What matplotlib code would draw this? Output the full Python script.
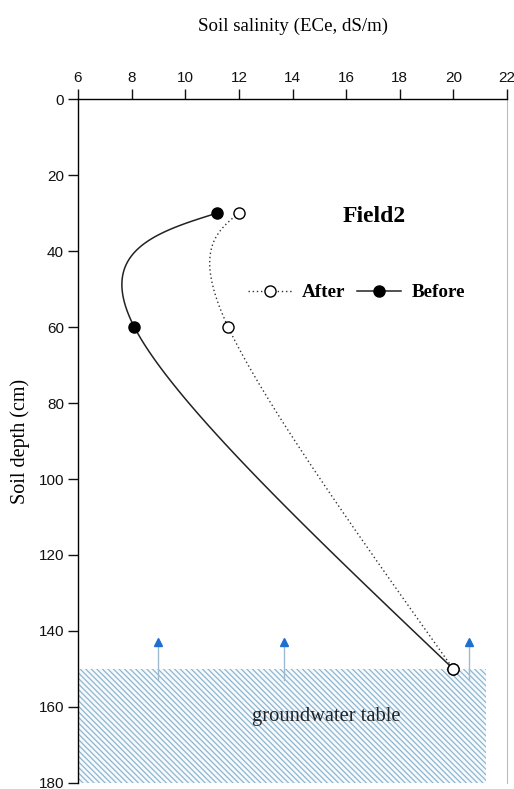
import numpy as np
import matplotlib
matplotlib.use("Agg")
import matplotlib.pyplot as plt
from matplotlib.patches import Rectangle

# ---- data ----
depth = [30, 60, 150]
before = [11.2, 8.1, 20.0]
after = [12.0, 11.6, 20.0]
x_ticks = [6, 8, 10, 12, 14, 16, 18, 20, 22]
y_ticks = [0, 20, 40, 60, 80, 100, 120, 140, 160, 180]
gw_top, gw_bottom = 150, 180
gw_left, gw_right = 6, 21.2
gw_label_x, gw_label_y = 15.25, 162.5
arrow_x = [9.0, 13.7, 20.6]
arrow_from, arrow_to = 153.0, 143.0


def natural_spline(vals, n=60):
    """Natural cubic spline with uniform parameter t=0..k-1, evaluated densely."""
    v = np.asarray(vals, float)
    k = len(v)
    A = np.zeros((k, k)); r = np.zeros(k)
    A[0, 0] = A[-1, -1] = 1
    for i in range(1, k - 1):
        A[i, i - 1], A[i, i], A[i, i + 1] = 1, 4, 1
        r[i] = 6 * (v[i + 1] - 2 * v[i] + v[i - 1])
    M = np.linalg.solve(A, r)
    out = []
    for i in range(k - 1):
        s = np.linspace(0, 1, n, endpoint=(i == k - 2))
        a = v[i]
        b = (v[i + 1] - v[i]) - (2 * M[i] + M[i + 1]) / 6
        c = M[i] / 2
        d = (M[i + 1] - M[i]) / 6
        out.append(a + b * s + c * s ** 2 + d * s ** 3)
    return np.concatenate(out)


fig = plt.figure(figsize=(5.14, 7.89), dpi=100)
ax = fig.add_axes([78 / 514, 1 - 783 / 789, 429 / 514, 684 / 789])

serif = ['Liberation Serif', 'DejaVu Serif']
sans = ['Liberation Sans', 'DejaVu Sans']

# groundwater hatched region
plt.rcParams['hatch.linewidth'] = 0.9
plt.rcParams['hatch.color'] = '#8db6d0'
ax.add_patch(Rectangle((gw_left, gw_top), gw_right - gw_left, gw_bottom - gw_top,
                       facecolor='#f7fafc', edgecolor='#8db6d0', hatch='\\' * 6,
                       linewidth=0, zorder=1))
ax.text(gw_label_x, gw_label_y, 'groundwater table', family=serif,
        fontsize=14.8, color='#222222', ha='center', va='center', zorder=3)

# upward arrows
for xa in arrow_x:
    ax.plot([xa, xa], [arrow_from, arrow_to + 0.8], color='#9dbad0', lw=1.0, zorder=2)
    ax.plot([xa], [arrow_to], marker='^', color='#1f6fd1', markersize=5.5, zorder=2)

# curves
bx = natural_spline(before); by = natural_spline(depth)
axx = natural_spline(after); ay = natural_spline(depth)
ax.plot(axx, ay, linestyle=(0, (1, 2)), color='#333333', lw=1.0, zorder=4)
ax.plot(bx, by, '-', color='#222222', lw=1.1, zorder=4)
ax.plot(before, depth, 'o', mfc='black', mec='black', ms=8, zorder=5)
ax.plot(after, depth, 'o', mfc='white', mec='black', mew=1.0, ms=8, zorder=6)

# legend proxies
h_after, = ax.plot([], [], linestyle=(0, (1, 2)), color='#333333', lw=1.0,
                   marker='o', mfc='white', mec='black', ms=8)
h_before, = ax.plot([], [], '-', color='#222222', lw=1.1, marker='o',
                    mfc='black', mec='black', ms=8)
ax.legend([h_after, h_before], ['After', 'Before'], ncol=2, frameon=False,
          loc='center', bbox_to_anchor=(0.649, 0.717), handlelength=2.3,
          handletextpad=0.52, columnspacing=0.62,
          prop={'family': serif, 'weight': 'bold', 'size': 13.8})

ax.text(0.69, 0.8275, 'Field2', transform=ax.transAxes, family=serif,
        fontweight='bold', fontsize=17, ha='center', va='center')

# axes
ax.set_xlim(6, 22)
ax.set_ylim(180, 0)
ax.xaxis.tick_top()
ax.set_xticks(x_ticks)
ax.set_yticks(y_ticks)
ax.tick_params(axis='both', direction='out', length=7, width=1, labelsize=11,
               pad=3, colors='#111111')
for lab in ax.get_xticklabels() + ax.get_yticklabels():
    lab.set_family(sans)
ax.spines['bottom'].set_visible(False)
ax.spines['right'].set_color('#bbbbbb')
ax.spines['left'].set_linewidth(1.0)
ax.spines['top'].set_linewidth(1.0)

ax.xaxis.set_label_position('top')
ax.set_xlabel('Soil salinity (ECe, dS/m)', family=serif, fontsize=13.6, labelpad=29)
ax.set_ylabel('Soil depth (cm)', family=serif, fontsize=14.5, labelpad=6)

fig.savefig('out.png', dpi=100)
